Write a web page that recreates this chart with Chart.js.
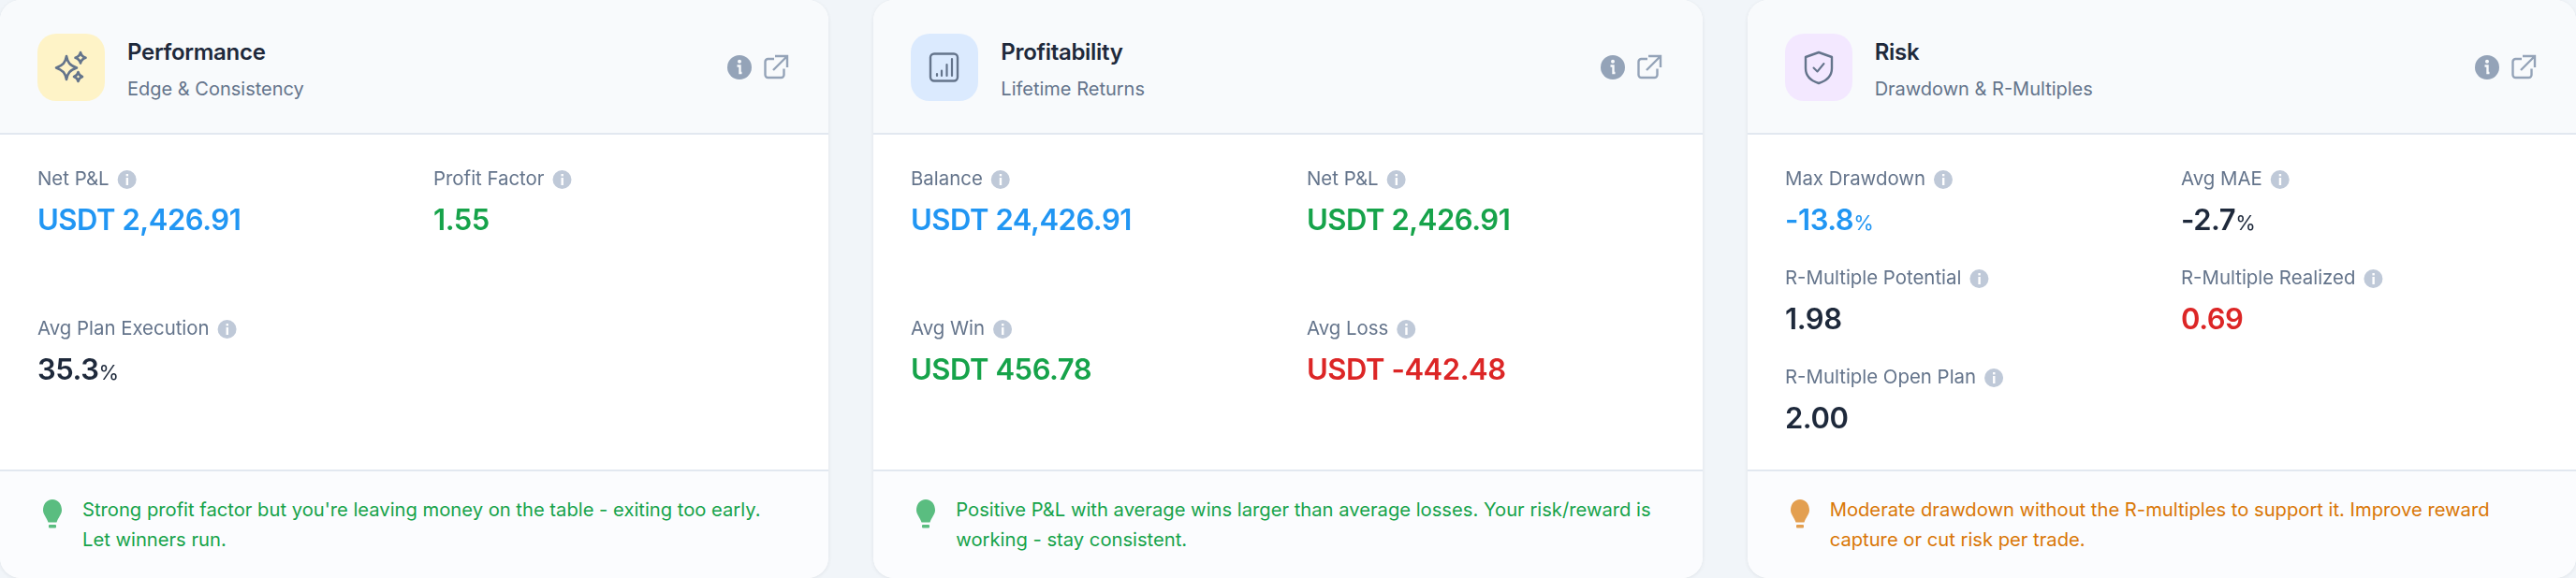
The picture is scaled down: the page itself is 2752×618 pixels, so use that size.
<!DOCTYPE html>
<html>
<head>
<meta charset="utf-8">
<title>Performance, Profitability, Risk</title>
<script src="https://cdn.jsdelivr.net/npm/chart.js@4"></script>
<style>
html, body { margin: 0; padding: 0; width: 2752px; height: 618px; overflow: hidden; background: #f1f5f9; font-family: Inter, sans-serif; }
.card { position: absolute; top: 0; width: 885.33px; height: 618px; background: #fff; border-radius: 22px; overflow: hidden; box-shadow: 0 1px 4px rgba(15,23,42,.08); }
.head { position: absolute; left: 0; top: 0; right: 0; height: 142px; background: #f8fafc; border-bottom: 2px solid #e2e8f0; }
.badge { position: absolute; left: 40px; top: 36px; width: 72px; height: 72px; border-radius: 20px; }
.badge svg { position: absolute; left: 0; top: 0; }
.title { position: absolute; left: 136px; top: 40px; font-size: 24px; line-height: 32px; font-weight: 600; letter-spacing: -0.3px; color: #1e293b; white-space: nowrap; }
.sub { position: absolute; left: 136px; top: 80px; font-size: 20px; line-height: 30px; color: #64748b; white-space: nowrap; }
.tools { position: absolute; left: 776px; top: 58px; }
.body { position: absolute; left: 0; top: 144px; width: 885.33px; height: 358px; }
.foot { position: absolute; left: 0; top: 502px; right: 0; height: 114px; background: #fbfcfe; border-top: 2px solid #e2e8f0; }
.bulb { position: absolute; left: 44px; top: 29px; }
.tip { position: absolute; left: 88px; top: 25px; width: 750px; font-size: 20.2px; line-height: 32px; }
</style>
</head>
<body>
<div id="cards"></div>
<script>
// values
const perfLabels = ['Net P&L', 'Profit Factor', 'Avg Plan Execution']
const perfValues = [2426.91, 1.55, 35.3]
const perfUnits = ['usdt', 'num', 'pct']
const perfTones = ['blue', 'green', 'ink']

const profLabels = ['Balance', 'Net P&L', 'Avg Win', 'Avg Loss']
const profValues = [24426.91, 2426.91, 456.78, -442.48]
const profUnits = ['usdt', 'usdt', 'usdt', 'usdt']
const profTones = ['blue', 'green', 'green', 'red']

const riskLabels = ['Max Drawdown', 'Avg MAE', 'R-Multiple Potential', 'R-Multiple Realized', 'R-Multiple Open Plan']
const riskValues = [-13.8, -2.7, 1.98, 0.69, 2.00]
const riskUnits = ['pct', 'pct', 'num', 'num', 'num']
const riskTones = ['blue', 'ink', 'ink', 'red', 'ink']

const tones = { blue: '#2196f3', green: '#16a34a', red: '#dc2626', ink: '#1e293b' }

// icons
const sparkles = '<g fill="none" stroke="#64748b" stroke-width="2.6" stroke-linejoin="round"><path d="M30 21c1.2 7 3.6 10 11 12.500c-7.400 2.500-9.800 5.500-11 12.500c-1.200-7-3.600-10-11-12.500c7.400-2.500 9.800-5.500 11-12.500z" transform="translate(1,3)"/><path d="M46 20c.6 3 2 4.600 5.500 5.800c-3.500 1.200-4.900 2.800-5.500 5.800c-.6-3-2-4.600-5.500-5.800c3.500-1.200 4.900-2.800 5.500-5.800z"/><path d="M43.500 41c.5 2.800 1.700 4 4.500 5c-2.800 1-4 2.200-4.500 5c-.5-2.800-1.700-4-4.500-5c2.800-1 4-2.200 4.500-5z"/></g>'
const barsIcon = '<g fill="none" stroke="#64748b" stroke-linecap="round"><rect x="21" y="21.500" width="29" height="29" rx="4" stroke-width="2.4"/><path d="M28 43v2M33 39.500v5.500M38.500 33v12M44 27v18" stroke-width="2.200"/></g>'
const shieldIcon = '<g fill="none" stroke="#64748b" stroke-width="2.400" stroke-linejoin="round" stroke-linecap="round"><path d="M36 20l14 5v12c0 8-6 13.500-14 16c-8-2.500-14-8-14-16v-12z"/><path d="M30.500 36.500l4 4l7-8.500" stroke-width="2"/></g>'

const toolsSvg = '<svg width="68" height="28" viewBox="0 0 68 28"><circle cx="14" cy="14" r="13" fill="#94a3b8"/><circle cx="14" cy="7.800" r="2" fill="#f8fafc"/><path d="M11.500 12.500h3v7.500h2" fill="none" stroke="#f8fafc" stroke-width="2.400"/><path d="M51 5h-6.500a3 3 0 0 0-3 3v14a3 3 0 0 0 3 3h14a3 3 0 0 0 3-3v-6.500M52 2h13v12M64.500 2.500L50 17" fill="none" stroke="#94a3b8" stroke-width="2.400"/></svg>'

function bulbSvg(color) {
  return '<svg width="24" height="34" viewBox="0 0 24 34"><path d="M12 1c6 0 10 5 10 11.500c0 4.500-4 8-5.500 13h-9C6 20.500 2 17 2 12.500C2 6 6 1 12 1z" fill="' + color + '" opacity=".7"/><rect x="8" y="28" width="8" height="3.500" rx="1" fill="' + color + '" opacity=".7"/></svg>'
}

const cards = [
  { left: 0, title: 'Performance', sub: 'Edge & Consistency', badge: '#fef3c7', icon: sparkles,
    labels: perfLabels, values: perfValues, units: perfUnits, tones: perfTones, rowGap: 160,
    tip: "Strong profit factor but you're leaving money on the table - exiting too early. Let winners run.", tipColor: '#16a34a' },
  { left: 933.33, title: 'Profitability', sub: 'Lifetime Returns', badge: '#dbeafe', icon: barsIcon,
    labels: profLabels, values: profValues, units: profUnits, tones: profTones, rowGap: 160,
    tip: 'Positive P&L with average wins larger than average losses. Your risk/reward is working - stay consistent.', tipColor: '#16a34a' },
  { left: 1866.67, title: 'Risk', sub: 'Drawdown & R-Multiples', badge: '#f3e8ff', icon: shieldIcon,
    labels: riskLabels, values: riskValues, units: riskUnits, tones: riskTones, rowGap: 106,
    tip: 'Moderate drawdown without the R-multiples to support it. Improve reward capture or cut risk per trade.', tipColor: '#d97706' }
]

function money(v) {
  const s = Math.abs(v).toLocaleString('en-US', { minimumFractionDigits: 2, maximumFractionDigits: 2 })
  return 'USDT ' + (v < 0 ? '-' : '') + s
}

// writes the metric tiles at the points of the (invisible) scatter dataset
const tilesPlugin = {
  id: 'tiles',
  afterDatasetsDraw(chart) {
    const ctx = chart.ctx
    const c = chart.options.plugins.tiles
    chart.getDatasetMeta(0).data.forEach((pt, i) => {
      const x = pt.x, y = pt.y
      ctx.save()
      ctx.textBaseline = 'alphabetic'
      ctx.textAlign = 'left'
      // label + info dot
      ctx.font = '400 20.4px Inter'
      ctx.fillStyle = '#64748b'
      ctx.fillText(c.labels[i], x, y + 7)
      const dotX = x + ctx.measureText(c.labels[i]).width + 19
      ctx.fillStyle = '#bfc9d8'
      ctx.beginPath()
      ctx.arc(dotX, y + 1, 10, 0, Math.PI * 2)
      ctx.fill()
      ctx.fillStyle = '#fff'
      ctx.fillRect(dotX - 1, y - 1, 2.4, 8)
      ctx.fillRect(dotX - 1, y - 5, 2.4, 2.4)
      // value
      const v = c.values[i]
      ctx.fillStyle = tones[c.tones[i]]
      ctx.font = '600 31px Inter'
      ctx.letterSpacing = '-0.45px'
      let txt = v.toFixed(2)
      if (c.units[i] == 'usdt') txt = money(v)
      if (c.units[i] == 'pct') txt = v.toFixed(1)
      ctx.fillText(txt, x, y + 55)
      if (c.units[i] == 'pct') {
        const w = ctx.measureText(txt).width
        ctx.font = '400 22px Inter'
        ctx.letterSpacing = '0px'
        ctx.fillText('%', x + w, y + 55)
      }
      ctx.restore()
    })
  }
}

const host = document.getElementById('cards')
cards.forEach((c) => {
  const el = document.createElement('div')
  el.className = 'card'
  el.style.left = c.left + 'px'
  el.innerHTML =
    '<div class="head"><div class="badge" style="background:' + c.badge + '">' +
    '<svg width="72" height="72" viewBox="0 0 72 72">' + c.icon + '</svg></div>' +
    '<div class="title"></div><div class="sub"></div><div class="tools">' + toolsSvg + '</div></div>' +
    '<div class="body"><canvas width="885" height="358"></canvas></div>' +
    '<div class="foot"><div class="bulb">' + bulbSvg(c.tipColor) + '</div><div class="tip"></div></div>'
  el.querySelector('.title').textContent = c.title
  el.querySelector('.sub').textContent = c.sub
  const tip = el.querySelector('.tip')
  tip.textContent = c.tip
  tip.style.color = c.tipColor
  host.appendChild(el)

  const lastRow = Math.floor((c.labels.length - 1) / 2)
  new Chart(el.querySelector('canvas').getContext('2d'), {
    type: 'scatter',
    plugins: [tilesPlugin],
    data: {
      datasets: [{
        data: c.labels.map((l, i) => ({ x: i % 2, y: Math.floor(i / 2) })),
        pointRadius: 0
      }]
    },
    options: {
      responsive: false,
      animation: false,
      events: [],
      // rows start 47px under the header, columns 40px in and 423px apart
      layout: { padding: { left: 40, right: 885 - 40 - 423, top: 47, bottom: 358 - 47 - lastRow * c.rowGap } },
      scales: {
        x: { type: 'linear', min: 0, max: 1, display: false },
        y: { type: 'linear', min: 0, max: lastRow, reverse: true, display: false }
      },
      plugins: {
        legend: { display: false },
        tooltip: { enabled: false },
        tiles: { labels: c.labels, values: c.values, units: c.units, tones: c.tones }
      }
    }
  })
})
</script>
</body>
</html>
